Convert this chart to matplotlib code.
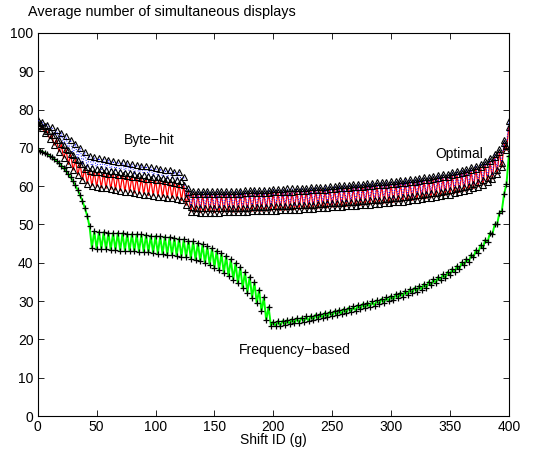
import numpy as np
import matplotlib
matplotlib.use("Agg")
import matplotlib.pyplot as plt

plt.rcParams['font.family'] = ['Liberation Sans', 'DejaVu Sans']
plt.rcParams['font.size'] = 10

# the curves alternate between an "upper" value (g = 0,4,...,400)
# and a "lower" value (g = 2,6,...,398)
x_upper = np.arange(0, 401, 4)
x_lower = np.arange(2, 400, 4)

# Frequency-based (green line, + markers)
freq_upper = [69.5, 69.0, 68.4, 67.6, 66.6, 65.4, 64.0, 62.3, 60.2, 57.6, 54.3, 49.5,
              48.2, 48.1, 48.0, 47.9, 47.8, 47.8, 47.7, 47.6, 47.5, 47.4,
              47.4, 47.3, 47.1, 47.0, 46.9, 46.8, 46.7, 46.5, 46.3, 46.1,
              45.8, 45.6, 45.2, 44.8, 44.3, 43.8, 43.2, 42.5, 41.8, 40.9,
              39.9, 38.9, 37.6, 36.4, 34.9, 33.0, 31.0, 28.5,
              24.6, 24.8, 24.9, 25.1, 25.3, 25.5, 25.7, 26.0, 26.2, 26.5,
              26.7, 27.0, 27.2, 27.4, 27.7, 28.0, 28.3, 28.6, 29.0, 29.3,
              29.6, 29.9, 30.2, 30.6, 31.0, 31.4, 31.8, 32.2, 32.6, 33.1,
              33.5, 34.0, 34.5, 35.1, 35.7, 36.3, 37.0, 37.6, 38.4, 39.2,
              40.1, 41.0, 42.1, 43.3, 44.6, 46.0, 47.8, 50.0, 53.0, 58.0,
              68.0]
freq_lower = [69.3, 68.7, 68.0, 67.1, 66.0, 64.7, 63.2, 61.3, 59.0, 56.1, 52.3,
              43.9, 43.7, 43.6, 43.5, 43.4, 43.3, 43.2, 43.2, 43.1, 43.0,
              42.9, 42.8, 42.7, 42.5, 42.4, 42.3, 42.1, 42.0, 41.8, 41.6,
              41.4, 41.1, 40.8, 40.4, 39.9, 39.4, 38.7, 38.0, 37.3, 36.5,
              35.6, 34.6, 33.4, 32.2, 30.9, 29.4, 27.3, 25.0, 23.6,
              23.5, 23.6, 23.8, 24.0, 24.2, 24.4, 24.6, 24.8, 25.1, 25.3,
              25.6, 25.8, 26.1, 26.3, 26.6, 26.9, 27.2, 27.5, 27.9, 28.2,
              28.5, 28.8, 29.2, 29.6, 30.0, 30.4, 30.8, 31.2, 31.6, 32.1,
              32.5, 33.0, 33.5, 34.1, 34.7, 35.4, 36.0, 36.8, 37.6, 38.4,
              39.3, 40.3, 41.4, 42.6, 43.9, 45.5, 47.4, 50.0, 53.5, 60.5]

# Optimal (blue dotted line, triangle markers)
opt_upper = [77.2, 76.7, 76.1, 75.5, 74.7, 73.9, 73.0, 72.1, 71.1, 70.0, 68.9, 68.0,
             67.5, 67.3, 67.0, 66.8, 66.6, 66.4, 66.2, 66.0, 65.8, 65.6,
             65.4, 65.2, 65.0, 64.8, 64.6, 64.3, 64.1, 63.8, 63.6, 62.5,
             59.5, 58.8, 58.7, 58.7, 58.7, 58.7, 58.7, 58.7, 58.8, 58.8,
             58.8, 58.8, 58.9, 58.9, 59.0, 59.0, 59.1, 59.1, 59.2, 59.3,
             59.3, 59.4, 59.4, 59.5, 59.6, 59.6, 59.7, 59.8, 59.9, 59.9,
             60.0, 60.1, 60.2, 60.3, 60.4, 60.5, 60.6, 60.7, 60.8, 60.9,
             61.0, 61.1, 61.2, 61.3, 61.4, 61.6, 61.7, 61.8, 62.0, 62.1,
             62.3, 62.5, 62.7, 62.9, 63.1, 63.3, 63.6, 63.9, 64.2, 64.5,
             64.9, 65.4, 65.9, 66.5, 67.3, 68.3, 69.7, 72.0, 77.0]
opt_lower = [76.6, 75.6, 74.5, 73.3, 72.0, 70.8, 69.5, 68.2, 66.9, 65.8, 64.9,
             64.7, 64.5, 64.4, 64.2, 64.0, 63.9, 63.7, 63.5, 63.4, 63.2,
             63.0, 62.9, 62.7, 62.5, 62.4, 62.2, 62.0, 61.9, 61.6, 61.3,
             57.0, 54.5, 54.3, 54.2, 54.2, 54.2, 54.2, 54.2, 54.3, 54.3,
             54.3, 54.4, 54.4, 54.4, 54.5, 54.5, 54.6, 54.6, 54.7, 54.7,
             54.8, 54.8, 54.9, 55.0, 55.0, 55.1, 55.2, 55.2, 55.3, 55.4,
             55.5, 55.6, 55.6, 55.7, 55.8, 55.9, 56.0, 56.1, 56.2, 56.3,
             56.4, 56.5, 56.6, 56.7, 56.9, 57.0, 57.1, 57.3, 57.4, 57.6,
             57.7, 57.9, 58.1, 58.3, 58.5, 58.7, 58.9, 59.2, 59.5, 59.8,
             60.1, 60.5, 61.0, 61.5, 62.2, 63.0, 64.2, 66.0, 70.5]

# Byte-hit (red line, triangle markers)
byte_upper = [76.0, 75.2, 74.3, 73.3, 72.1, 70.9, 69.6, 68.3, 67.0, 65.8, 64.6, 64.0,
              63.8, 63.6, 63.5, 63.3, 63.1, 63.0, 62.8, 62.7, 62.5, 62.3,
              62.2, 62.0, 61.8, 61.7, 61.5, 61.3, 61.1, 60.9, 60.6, 60.2,
              58.4, 58.0, 57.9, 57.9, 57.9, 57.9, 57.9, 57.9, 58.0, 58.0,
              58.0, 58.0, 58.1, 58.1, 58.2, 58.2, 58.3, 58.3, 58.4, 58.5,
              58.5, 58.6, 58.6, 58.7, 58.8, 58.8, 58.9, 59.0, 59.1, 59.1,
              59.2, 59.3, 59.4, 59.5, 59.6, 59.7, 59.8, 59.9, 60.0, 60.1,
              60.2, 60.3, 60.4, 60.5, 60.6, 60.8, 60.9, 61.0, 61.2, 61.3,
              61.5, 61.7, 61.9, 62.1, 62.3, 62.5, 62.8, 63.1, 63.4, 63.7,
              64.1, 64.6, 65.1, 65.7, 66.5, 67.5, 68.9, 71.2, 75.5]
byte_lower = [75.6, 74.0, 72.4, 70.7, 69.0, 67.3, 65.7, 64.2, 62.9, 61.7, 60.7,
              60.1, 59.8, 59.6, 59.4, 59.2, 59.0, 58.8, 58.6, 58.4, 58.2,
              58.0, 57.8, 57.6, 57.5, 57.3, 57.1, 57.0, 56.8, 56.6, 56.3,
              55.0, 53.3, 53.2, 53.1, 53.1, 53.1, 53.1, 53.1, 53.2, 53.2,
              53.2, 53.2, 53.3, 53.3, 53.4, 53.4, 53.5, 53.5, 53.6, 53.6,
              53.7, 53.7, 53.8, 53.9, 53.9, 54.0, 54.1, 54.1, 54.2, 54.3,
              54.4, 54.5, 54.5, 54.6, 54.7, 54.8, 54.9, 55.0, 55.1, 55.2,
              55.3, 55.4, 55.5, 55.6, 55.8, 55.9, 56.0, 56.2, 56.3, 56.5,
              56.6, 56.8, 57.0, 57.2, 57.4, 57.6, 57.8, 58.1, 58.4, 58.7,
              59.0, 59.4, 59.9, 60.4, 61.1, 61.9, 63.1, 64.9, 69.4]


def zigzag(upper, lower):
    # interleave upper / lower points along x
    xs = np.empty(len(x_upper) + len(x_lower))
    ys = np.empty_like(xs)
    xs[0::2] = x_upper
    xs[1::2] = x_lower
    ys[0::2] = upper
    ys[1::2] = lower
    return xs, ys


fig = plt.figure(figsize=(5.39, 4.55), dpi=100)
ax = fig.add_axes([0.070, 0.0857, 0.874, 0.8418])

xb, yb = zigzag(byte_upper, byte_lower)
xo, yo = zigzag(opt_upper, opt_lower)
xf, yf = zigzag(freq_upper, freq_lower)

ax.plot(xb, yb, '-', color='#ff0000', lw=0.9, zorder=2)
ax.plot(xo, yo, ':', color='#0000ff', lw=0.7, zorder=3)
ax.plot(xf, yf, '-', color='#00ff00', lw=1.4, zorder=2)

ax.plot(xb, yb, '^', ls='none', ms=4.5, mfc='none', mec='black', mew=0.8, zorder=4)
ax.plot(xo, yo, '^', ls='none', ms=4.5, mfc='none', mec='black', mew=0.8, zorder=4)
ax.plot(xf, yf, '+', ls='none', ms=5, mec='black', mew=0.9, zorder=4)

ax.text(95, 72, 'Byte\u2212hit', ha='center', va='center')
ax.text(358, 68.5, 'Optimal', ha='center', va='center')
ax.text(218, 17.2, 'Frequency\u2212based', ha='center', va='center')

ax.set_xlim(0, 400)
ax.set_ylim(0, 100)
ax.set_xticks(np.arange(0, 401, 50))
ax.set_yticks(np.arange(0, 101, 10))
ax.tick_params(direction='in', length=4, width=0.6, top=True, right=True, pad=3)
for s in ax.spines.values():
    s.set_linewidth(0.8)
ax.set_xlabel('Shift ID (g)', labelpad=-1)

fig.text(28 / 539, 1 - 12 / 455, 'Average number of simultaneous displays',
         ha='left', va='center', fontsize=10.4)

fig.savefig('out.png', dpi=100)
